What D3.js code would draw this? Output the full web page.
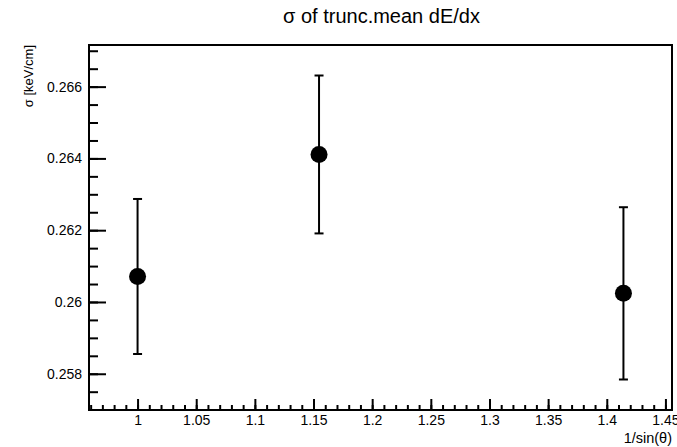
<!DOCTYPE html>
<html>
<head>
<meta charset="utf-8">
<script src="https://cdn.jsdelivr.net/npm/d3@7"></script>
<style>
  html, body { margin: 0; padding: 0; background: #fff; }
  svg { display: block; }
  text { font-family: "Liberation Sans", Arial, Helvetica, sans-serif; fill: #000; }
</style>
</head>
<body>
<script>
// Measurements: sigma of truncated-mean dE/dx vs 1/sin(theta)
const invSinTheta = [1.0, 1.1547, 1.4142];
const sigmaValues = [0.26071, 0.26411, 0.26024];
const sigmaErrors = [0.00216, 0.00220, 0.00240];

const xMajorTicks = [1, 1.05, 1.1, 1.15, 1.2, 1.25, 1.3, 1.35, 1.4, 1.45];
const xTickLabels = ["1", "1.05", "1.1", "1.15", "1.2", "1.25", "1.3", "1.35", "1.4", "1.45"];
const yMajorTicks = [0.258, 0.26, 0.262, 0.264, 0.266];
const yTickLabels = ["0.258", "0.26", "0.262", "0.264", "0.266"];

const titleText = "\u03c3 of trunc.mean dE/dx";
const xTitle = "1/sin(\u03b8)";
const yTitle = "\u03c3 [keV/cm]";

const W = 677, H = 447;
const frame = { left: 89, right: 672, top: 45, bottom: 410 };
const fontFam = "Liberation Sans, Arial, sans-serif";

const svg = d3.select("body").append("svg").attr("width", W).attr("height", H);

const x = d3.scaleLinear().domain([0.9586, 1.4556]).range([frame.left, frame.right]);
const y = d3.scaleLinear().domain([0.25699, 0.26716]).range([frame.bottom, frame.top]);

const plotW = frame.right - frame.left, plotH = frame.bottom - frame.top;

// minor tick positions
const xMinor = d3.range(0.96, 1.456, 0.01).filter(v => x(v) > frame.left + 1 && x(v) < frame.right - 1);
const yMinor = d3.range(0.2570, 0.26716, 0.0005).filter(v => y(v) < frame.bottom - 1 && y(v) > frame.top + 1);

// x axis (ticks pointing into the frame)
svg.append("g")
  .attr("transform", `translate(0,${frame.bottom})`)
  .call(d3.axisBottom(x).tickValues(xMinor).tickSize(-5).tickFormat(""))
  .call(g => g.select(".domain").remove())
  .call(g => g.selectAll("line").attr("stroke", "#000").attr("stroke-width", 2));

svg.append("g")
  .attr("transform", `translate(0,${frame.bottom})`)
  .call(d3.axisBottom(x).tickValues(xMajorTicks).tickSize(-11).tickPadding(5)
    .tickFormat((d, i) => xTickLabels[i]))
  .call(g => g.select(".domain").remove())
  .call(g => g.selectAll("line").attr("stroke", "#000").attr("stroke-width", 2))
  .call(g => g.selectAll("text").attr("font-size", 14).attr("fill", "#000")
    .attr("font-family", fontFam));

// y axis
svg.append("g")
  .attr("transform", `translate(${frame.left},0)`)
  .call(d3.axisLeft(y).tickValues(yMinor).tickSize(-9).tickFormat(""))
  .call(g => g.select(".domain").remove())
  .call(g => g.selectAll("line").attr("stroke", "#000").attr("stroke-width", 2));

svg.append("g")
  .attr("transform", `translate(${frame.left},0)`)
  .call(d3.axisLeft(y).tickValues(yMajorTicks).tickSize(-17).tickPadding(7)
    .tickFormat((d, i) => yTickLabels[i]))
  .call(g => g.select(".domain").remove())
  .call(g => g.selectAll("line").attr("stroke", "#000").attr("stroke-width", 2))
  .call(g => g.selectAll("text").attr("font-size", 14).attr("fill", "#000")
    .attr("font-family", fontFam));

// frame
svg.append("rect")
  .attr("x", frame.left).attr("y", frame.top)
  .attr("width", plotW).attr("height", plotH)
  .attr("fill", "none").attr("stroke", "#000").attr("stroke-width", 2);

// error bars and markers
const pts = invSinTheta.map((v, i) => ({ x: v, y: sigmaValues[i], e: sigmaErrors[i] }));
const capHalf = 4.5;
const gp = svg.append("g");
gp.selectAll("line.err").data(pts).join("line")
  .attr("class", "err")
  .attr("x1", d => x(d.x)).attr("x2", d => x(d.x))
  .attr("y1", d => y(d.y - d.e)).attr("y2", d => y(d.y + d.e))
  .attr("stroke", "#000").attr("stroke-width", 2);
gp.selectAll("line.capTop").data(pts).join("line")
  .attr("class", "capTop")
  .attr("x1", d => x(d.x) - capHalf).attr("x2", d => x(d.x) + capHalf)
  .attr("y1", d => y(d.y + d.e)).attr("y2", d => y(d.y + d.e))
  .attr("stroke", "#000").attr("stroke-width", 2);
gp.selectAll("line.capBot").data(pts).join("line")
  .attr("class", "capBot")
  .attr("x1", d => x(d.x) - capHalf).attr("x2", d => x(d.x) + capHalf)
  .attr("y1", d => y(d.y - d.e)).attr("y2", d => y(d.y - d.e))
  .attr("stroke", "#000").attr("stroke-width", 2);
gp.selectAll("circle").data(pts).join("circle")
  .attr("cx", d => x(d.x)).attr("cy", d => y(d.y)).attr("r", 8.5)
  .attr("fill", "#000");

// titles
svg.append("text")
  .attr("x", (frame.left + frame.right) / 2 + 1).attr("y", 23)
  .attr("text-anchor", "middle").attr("font-size", 20)
  .text(titleText);

svg.append("text")
  .attr("x", frame.right).attr("y", 443)
  .attr("text-anchor", "end").attr("font-size", 14.5)
  .text(xTitle);

svg.append("text")
  .attr("transform", `translate(33,${frame.top}) rotate(-90)`)
  .attr("text-anchor", "end").attr("font-size", 13)
  .text(yTitle);
</script>
</body>
</html>
